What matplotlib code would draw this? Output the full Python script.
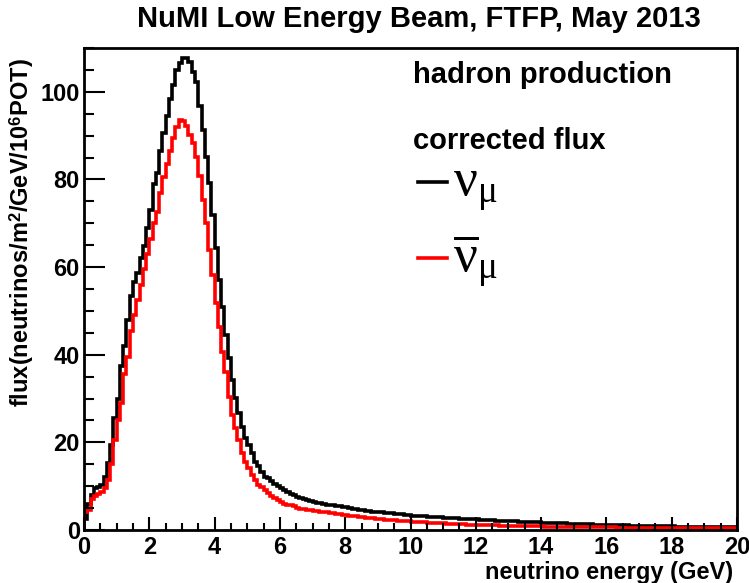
import numpy as np
import matplotlib
matplotlib.use("Agg")
import matplotlib.pyplot as plt
from matplotlib.lines import Line2D

plt.rcParams['font.family'] = ['Liberation Sans', 'DejaVu Sans']
plt.rcParams['mathtext.fontset'] = 'custom'
plt.rcParams['mathtext.rm'] = 'Liberation Serif:weight=normal'
plt.rcParams['mathtext.it'] = 'Liberation Serif:italic'
plt.rcParams['mathtext.bf'] = 'Liberation Sans:bold'

# histogram binning: 200 bins of 0.1 GeV from 0 to 20 GeV
edges = np.linspace(0, 20, 201)

# nu_mu flux per bin
numu = [
    2.5, 6.0, 8.0, 9.6, 9.8, 10.2, 12.2, 15.2, 19.4, 25.5,
    30.0, 37.5, 42.0, 48.0, 53.5, 56.5, 58.6, 62.0, 64.8, 68.9,
    73.0, 79.0, 81.5, 86.4, 90.6, 94.4, 98.4, 101.5, 105.0, 106.5,
    107.8, 107.8, 106.9, 104.5, 102.2, 96.8, 91.3, 85.2, 79.2, 71.9,
    64.4, 57.0, 51.0, 44.5, 39.2, 34.2, 30.1, 26.6, 23.6, 21.0,
    19.4, 17.5, 15.6, 14.5, 13.3, 12.2, 11.8, 11.2, 10.5, 10.0,
    9.5, 9.1, 8.7, 8.3, 8.0, 7.6, 7.2, 7.0, 6.8, 6.6,
    6.4, 6.2, 6.05, 5.9, 5.8, 5.7, 5.6, 5.5, 5.4, 5.3,
    5.2, 5.05, 4.9, 4.8, 4.65, 4.5, 4.4, 4.3, 4.2, 4.15,
    4.1, 4.0, 3.95, 3.85, 3.8, 3.7, 3.62, 3.55, 3.45, 3.38,
    3.3, 3.25, 3.2, 3.14, 3.1, 3.05, 2.99, 2.95, 2.9, 2.86,
    2.8, 2.77, 2.72, 2.68, 2.65, 2.6, 2.56, 2.53, 2.48, 2.44,
    2.4, 2.37, 2.32, 2.28, 2.25, 2.2, 2.16, 2.13, 2.08, 2.04,
    2.0, 1.97, 1.94, 1.92, 1.88, 1.85, 1.82, 1.8, 1.76, 1.73,
    1.7, 1.67, 1.65, 1.61, 1.58, 1.56, 1.52, 1.49, 1.47, 1.43,
    1.4, 1.38, 1.35, 1.32, 1.3, 1.27, 1.25, 1.22, 1.2, 1.17,
    1.15, 1.13, 1.11, 1.09, 1.07, 1.05, 1.03, 1.01, 0.99, 0.97,
    0.95, 0.94, 0.92, 0.91, 0.89, 0.88, 0.86, 0.85, 0.83, 0.82,
    0.8, 0.79, 0.78, 0.77, 0.76, 0.75, 0.74, 0.73, 0.72, 0.71,
    0.7, 0.69, 0.68, 0.67, 0.66, 0.65, 0.64, 0.63, 0.62, 0.61,
]

# anti nu_mu flux per bin
numubar = [
    4.0, 4.5, 7.0, 7.8, 8.3, 8.6, 9.5, 11.5, 15.0, 20.5,
    25.0, 29.0, 35.5, 39.5, 45.5, 49.0, 52.5, 56.0, 59.5, 63.0,
    66.5, 70.0, 72.5, 77.0, 80.5, 83.5, 86.5, 89.5, 92.0, 93.5,
    93.3, 92.1, 90.2, 88.3, 85.2, 80.7, 75.3, 70.0, 63.9, 58.2,
    51.8, 46.4, 40.7, 36.1, 30.4, 26.3, 23.2, 20.5, 17.5, 15.6,
    14.1, 12.6, 11.4, 10.3, 9.7, 9.2, 8.5, 7.7, 7.2, 6.8,
    6.4, 6.0, 5.8, 5.6, 5.4, 5.1, 4.9, 4.7, 4.6, 4.5,
    4.4, 4.3, 4.2, 4.1, 4.0, 3.9, 3.8, 3.7, 3.6, 3.5,
    3.4, 3.3, 3.2, 3.1, 3.0, 2.9, 2.82, 2.74, 2.66, 2.58,
    2.5, 2.44, 2.38, 2.32, 2.26, 2.2, 2.14, 2.08, 2.02, 1.96,
    1.9, 1.86, 1.82, 1.78, 1.74, 1.7, 1.66, 1.62, 1.58, 1.54,
    1.5, 1.46, 1.43, 1.39, 1.36, 1.32, 1.29, 1.25, 1.22, 1.18,
    1.15, 1.13, 1.11, 1.09, 1.07, 1.05, 1.03, 1.01, 0.99, 0.97,
    0.95, 0.94, 0.92, 0.91, 0.89, 0.88, 0.86, 0.85, 0.83, 0.82,
    0.8, 0.79, 0.78, 0.77, 0.76, 0.75, 0.74, 0.73, 0.72, 0.71,
    0.7, 0.69, 0.68, 0.67, 0.66, 0.65, 0.64, 0.63, 0.62, 0.61,
    0.6, 0.59, 0.58, 0.57, 0.56, 0.55, 0.54, 0.53, 0.52, 0.51,
    0.5, 0.5, 0.49, 0.49, 0.48, 0.48, 0.47, 0.47, 0.46, 0.46,
    0.45, 0.45, 0.44, 0.44, 0.43, 0.43, 0.42, 0.42, 0.41, 0.41,
    0.4, 0.4, 0.39, 0.39, 0.38, 0.38, 0.37, 0.37, 0.36, 0.36,
]

fig = plt.figure(figsize=(7.49, 5.83), dpi=100)
ax = fig.add_axes([84/749, 1-530/583, (737-84)/749, (530-48)/583])

ax.stairs(numu, edges, color='black', lw=2.6)
ax.stairs(numubar, edges, color='red', lw=2.6)

ax.set_xlim(0, 20)
ax.set_ylim(0, 110)
ax.set_xticks(np.arange(0, 21, 2))
ax.set_xticks(np.arange(0, 20.01, 0.5), minor=True)
ax.set_yticks(np.arange(0, 101, 20))
ax.set_yticks(np.arange(0, 111, 5), minor=True)
ax.tick_params(axis='both', which='both', direction='in', width=1.5,
               labelsize=17, top=False, right=False)
ax.tick_params(axis='x', which='major', length=9.5, pad=4)
ax.tick_params(axis='x', which='minor', length=4.7)
ax.tick_params(axis='y', which='major', length=15, pad=3)
ax.tick_params(axis='y', which='minor', length=7.5)
for lab in ax.get_xticklabels() + ax.get_yticklabels():
    lab.set_fontweight('bold')
for sp in ax.spines.values():
    sp.set_linewidth(2)

fig.text(419/749, 1-19/583, 'NuMI Low Energy Beam, FTFP, May 2013',
         ha='center', va='center', fontsize=21, fontweight='bold')
fig.text(733/749, 1-572/583, 'neutrino energy (GeV)',
         ha='right', va='center', fontsize=17, fontweight='bold')
fig.text(22/749, 1-58/583, r'flux(neutrinos/m$^{\mathbf{2}}$/GeV/10$^{\mathbf{6}}$POT)',
         ha='center', va='top', rotation=90, fontsize=17, fontweight='bold')

fig.text(413/749, 1-75/583, 'hadron production',
         ha='left', va='center', fontsize=21, fontweight='bold')
fig.text(413/749, 1-141/583, 'corrected flux',
         ha='left', va='center', fontsize=21, fontweight='bold')

# legend: sample line + label for each flavour
legend_entries = [('black', r'$\mathrm{\nu}_{\mathrm{\mu}}$', 182),
                  ('red', r'$\overline{\mathrm{\nu}}_{\mathrm{\mu}}$', 258)]
for col, lab, ypix in legend_entries:
    fig.add_artist(Line2D([418/749, 447/749], [1-ypix/583]*2, color=col, lw=2.6,
                          transform=fig.transFigure))
    fig.text(453/749, 1-(ypix+14)/583, lab, ha='left', va='baseline',
             fontsize=38, fontweight='normal')

fig.savefig('out.png', dpi=100)
